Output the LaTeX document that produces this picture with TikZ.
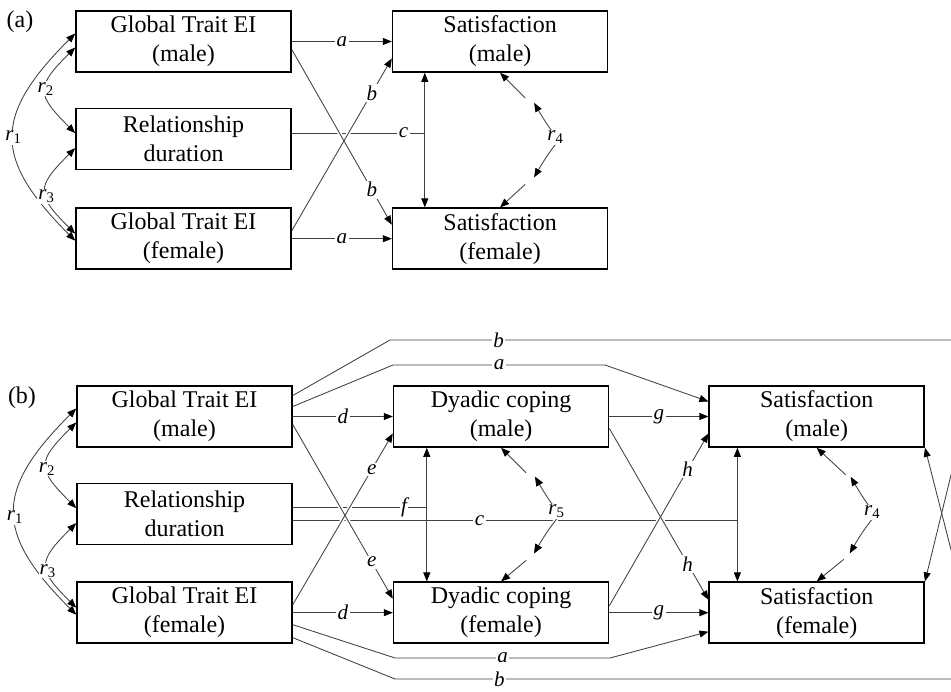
\documentclass[tikz,border=0pt]{standalone}
\usepackage{fontspec}
\setmainfont{Liberation Serif}
\usetikzlibrary{arrows.meta, positioning, calc}
\tikzset{
    base/.style = {
        draw=black, line width=1.6pt, text centered, align=center,
        font=\fontsize{24}{29}\selectfont
    },
    % Boxes
    var/.style   = {base, rectangle, minimum width=215pt, minimum height=61pt, inner sep=2pt},
    panel/.style = {font=\fontsize{24}{29}\selectfont},
    % Edges and labels
    conn/.style      = {draw=black!75, line width=0.85pt},
    arrow/.style     = {conn, -{Triangle[length=9pt, width=7pt, color=black]}},
    dbl_arrow/.style = {conn, {Triangle[length=9pt, width=7pt, color=black]}-{Triangle[length=9pt, width=7pt, color=black]}},
    halo/.style      = {draw=white, line width=4pt, shorten <=14pt, shorten >=14pt},
    coef/.style      = {fill=white, inner sep=1.5pt, font=\fontsize{21}{21}\selectfont\itshape},
    corr/.style      = {fill=white, inner sep=1pt, font=\fontsize{21}{21}\selectfont}
}
\newcommand{\rcoef}[1]{\textit{r}\textsubscript{#1}}

\begin{document}
\begin{tikzpicture}
    \useasboundingbox (0,0) rectangle (951pt,-692pt);
    \clip (0,0) rectangle (951pt,-692pt);

    % ---------- (a) ----------
    \node (pa) [panel] at (20pt,-22pt) {(a)};
    \node (gmA) [var] at (183.5pt,-41.5pt) {Global Trait EI\\(male)};
    \node (rdA) [var, below=35pt of gmA] {Relationship\\duration};
    \node (gfA) [var, below=37pt of rdA] {Global Trait EI\\(female)};
    \node (smA) [var, right=100pt of gmA] {Satisfaction\\(male)};
    \node (sfA) [var, right=100pt of gfA] {Satisfaction\\(female)};

    \draw [arrow] (gmA.east) -- node[coef] {a} (smA.west);
    \draw [arrow] (gfA.east) -- node[coef] {a} (sfA.west);

    \coordinate (vlA) at ([xshift=33pt]smA.south west);
    \draw [dbl_arrow] (vlA) -- (vlA |- sfA.north);
    \draw [conn] ([yshift=6pt]rdA.east) -- node[coef, pos=.84] {c} ($(rdA.east -| vlA)+(0,6pt)$);

    % crossing paths cut the c line
    \draw [halo] ([yshift=-8pt]gmA.east) -- ([yshift=14pt]sfA.west);
    \draw [halo] ([yshift=8pt]gfA.east) -- ([yshift=-17pt]smA.west);
    \draw [arrow] ([yshift=-8pt]gmA.east) -- node[coef, pos=.8] {b} ([yshift=14pt]sfA.west);
    \draw [arrow] ([yshift=8pt]gfA.east) -- node[coef, pos=.8] {b} ([yshift=-17pt]smA.west);

    % correlations
    \draw [dbl_arrow] ([yshift=8pt]gmA.west) to[out=225, in=135, looseness=1.44] node[corr] {\rcoef{1}} ([yshift=-2pt]gfA.west);
    \draw [dbl_arrow] ([yshift=-6pt]gmA.west) to[out=225, in=135, looseness=1.67] node[corr, pos=.48] {\rcoef{2}} ([yshift=6pt]rdA.west);
    \draw [dbl_arrow] ([yshift=-9pt]rdA.west) to[out=225, in=135, looseness=1.67] node[corr, pos=.58] {\rcoef{3}} ([yshift=5pt]gfA.west);

    \coordinate (r4Au) at ([shift={(34pt,-30pt)}]smA.south);
    \coordinate (r4Ad) at ([shift={(34pt,30pt)}]sfA.north);
    \coordinate (r4As) at ([shift={(25pt,-25pt)}]smA.south);
    \coordinate (r4At) at ([shift={(25pt,23pt)}]sfA.north);
    \draw [arrow] (r4As) -- (smA.south);
    \draw [arrow] (r4At) -- (sfA.north);
    \draw [dbl_arrow] (r4Au) to[out=-60, in=60, looseness=2] node[corr, pos=.42] {\rcoef{4}} (r4Ad);

    % ---------- (b) ----------
    \node (pb) [panel] at (22pt,-398pt) {(b)};
    \node (gmB) [var] at (184.5pt,-416.5pt) {Global Trait EI\\(male)};
    \node (rdB) [var, below=35pt of gmB] {Relationship\\duration};
    \node (gfB) [var, below=36pt of rdB] {Global Trait EI\\(female)};
    \node (dmB) [var, right=100pt of gmB] {Dyadic coping\\(male)};
    \node (dfB) [var, right=100pt of gfB] {Dyadic coping\\(female)};
    \node (smB) [var, right=99pt of dmB] {Satisfaction\\(male)};
    \node (sfB) [var, right=99pt of dfB] {Satisfaction\\(female)};

    % outer paths a and b
    \coordinate (bT1) at (390pt,-340pt);
    \coordinate (bT2) at (984pt,-340pt);
    \coordinate (aT1) at (393pt,-365pt);
    \coordinate (aT2) at (605pt,-365pt);
    \coordinate (aB1) at (395pt,-658pt);
    \coordinate (aB2) at (610pt,-658pt);
    \coordinate (bB1) at (395pt,-679pt);
    \coordinate (bB2) at (984pt,-679pt);
    \draw [arrow] ([yshift=21pt]gmB.east) -- (bT1) -- node[coef, pos=.183] {b} (bT2) -- (sfB.north east);
    \draw [arrow] ([yshift=10pt]gmB.east) -- (aT1) -- node[coef] {a} (aT2) -- ([yshift=15pt]smB.west);
    \draw [arrow] ([yshift=-12pt]gfB.east) -- (aB1) -- node[coef] {a} (aB2) -- ([yshift=-19pt]sfB.west);
    \draw [arrow] ([yshift=-25pt]gfB.east) -- (bB1) -- node[coef, pos=.177] {b} (bB2) -- (smB.south east);

    \draw [arrow] (gmB.east) -- node[coef] {d} (dmB.west);
    \draw [arrow] (gfB.east) -- node[coef] {d} (dfB.west);
    \draw [arrow] (dmB.east) -- node[coef] {g} (smB.west);
    \draw [arrow] (dfB.east) -- node[coef] {g} (sfB.west);

    \coordinate (vlB) at ([xshift=34pt]dmB.south west);
    \coordinate (vlC) at ([xshift=29pt]smB.south west);
    \draw [dbl_arrow] (vlB) -- (vlB |- dfB.north);
    \draw [dbl_arrow] (vlC) -- (vlC |- sfB.north);
    \draw [conn] ([yshift=6.5pt]rdB.east) -- node[coef, pos=.83] {f} ($(rdB.east -| vlB)+(0,6.5pt)$);
    \draw [conn] ([yshift=-6.5pt]rdB.east) -- node[coef, pos=.42] {c} ($(rdB.east -| vlC)+(0,-6.5pt)$);

    % crossing paths cut the f and c lines
    \draw [halo] ([yshift=-8pt]gmB.east) -- ([yshift=14pt]dfB.west);
    \draw [halo] ([yshift=8pt]gfB.east) -- ([yshift=-17pt]dmB.west);
    \draw [halo] ([yshift=-12pt]dmB.east) -- ([yshift=13pt]sfB.west);
    \draw [halo] ([yshift=7pt]dfB.east) -- ([yshift=-17pt]smB.west);
    \draw [arrow] ([yshift=-8pt]gmB.east) -- node[coef, pos=.79] {e} ([yshift=14pt]dfB.west);
    \draw [arrow] ([yshift=8pt]gfB.east) -- node[coef, pos=.79] {e} ([yshift=-17pt]dmB.west);
    \draw [arrow] ([yshift=-12pt]dmB.east) -- node[coef, pos=.79] {h} ([yshift=13pt]sfB.west);
    \draw [arrow] ([yshift=7pt]dfB.east) -- node[coef, pos=.79] {h} ([yshift=-17pt]smB.west);

    % correlations
    \draw [dbl_arrow] ([yshift=8pt]gmB.west) to[out=225, in=135, looseness=1.44] node[corr, pos=.53] {\rcoef{1}} ([yshift=-2pt]gfB.west);
    \draw [dbl_arrow] ([yshift=-6pt]gmB.west) to[out=225, in=135, looseness=1.67] node[corr, pos=.55] {\rcoef{2}} ([yshift=6pt]rdB.west);
    \draw [dbl_arrow] ([yshift=-9pt]rdB.west) to[out=225, in=135, looseness=1.67] node[corr, pos=.58] {\rcoef{3}} ([yshift=5pt]gfB.west);

    \coordinate (r5u) at ([shift={(34pt,-29pt)}]dmB.south);
    \coordinate (r5d) at ([shift={(33pt,28pt)}]dfB.north);
    \coordinate (r5s) at ([shift={(25pt,-25pt)}]dmB.south);
    \coordinate (r5t) at ([shift={(25pt,21pt)}]dfB.north);
    \draw [arrow] (r5s) -- (dmB.south);
    \draw [arrow] (r5t) -- (dfB.north);
    \draw [dbl_arrow, preaction={draw=white, line width=4pt}] (r5u) to[out=-60, in=60, looseness=2] node[corr, pos=.4] {\rcoef{5}} (r5d);

    \coordinate (r4Bu) at ([shift={(34pt,-29pt)}]smB.south);
    \coordinate (r4Bd) at ([shift={(33pt,28pt)}]sfB.north);
    \coordinate (r4Bs) at ([shift={(29pt,-27pt)}]smB.south);
    \coordinate (r4Bt) at ([shift={(27pt,22pt)}]sfB.north);
    \draw [arrow] (r4Bs) -- (smB.south);
    \draw [arrow] (r4Bt) -- (sfB.north);
    \draw [dbl_arrow] (r4Bu) to[out=-60, in=60, looseness=2] node[corr, pos=.42] {\rcoef{4}} (r4Bd);
\end{tikzpicture}
\end{document}
